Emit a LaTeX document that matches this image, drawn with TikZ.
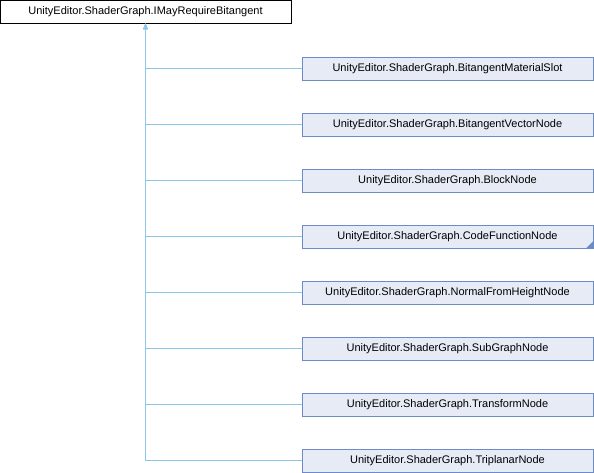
\documentclass[tikz,border=0pt]{standalone}
\usepackage{fontspec}
\setmainfont{Liberation Sans}
\usetikzlibrary{arrows.meta,positioning}
\definecolor{edgeBlue}{HTML}{8CC6EA}
\definecolor{derivedBorder}{HTML}{6C8CC8}
\definecolor{derivedFill}{HTML}{E6EBF5}

\begin{document}
\begin{tikzpicture}[x=1pt, y=-1pt,
          base/.style={rectangle, draw=black, fill=white, minimum width=291pt, minimum height=23pt, inner sep=0pt, font=\fontsize{11}{13}\selectfont},
          derived/.style={base, draw=derivedBorder, fill=derivedFill},
          inherit/.style={draw=edgeBlue, thick, -{Latex[length=6pt,width=5pt]}}
        ]
          \useasboundingbox (0,0) rectangle (594,472);
          \node[base] (root) at (145.5,11.5) {UnityEditor.ShaderGraph.IMayRequireBitangent};
          \node[derived] (slot) at (447.5,68.5) {UnityEditor.ShaderGraph.BitangentMaterialSlot};
          \node[derived] (vector) at (447.5,124.5) {UnityEditor.ShaderGraph.BitangentVectorNode};
          \node[derived] (block) at (447.5,180.5) {UnityEditor.ShaderGraph.BlockNode};
          \node[derived] (codefn) at (447.5,236.5) {UnityEditor.ShaderGraph.CodeFunctionNode};
          \node[derived] (normal) at (447.5,292.5) {UnityEditor.ShaderGraph.NormalFromHeightNode};
          \node[derived] (subgraph) at (447.5,348.5) {UnityEditor.ShaderGraph.SubGraphNode};
          \node[derived] (transform) at (447.5,404.5) {UnityEditor.ShaderGraph.TransformNode};
          \node[derived] (triplanar) at (447.5,460.5) {UnityEditor.ShaderGraph.TriplanarNode};
          % folded corner: class has more derived classes
          \fill[derivedBorder] (codefn.south east) -- ++(0,-7) -- ++(-7,7) -- cycle;
          % inheritance edges
          \draw[inherit] (slot.west) -| (root.south);
          \draw[inherit] (vector.west) -| (root.south);
          \draw[inherit] (block.west) -| (root.south);
          \draw[inherit] (codefn.west) -| (root.south);
          \draw[inherit] (normal.west) -| (root.south);
          \draw[inherit] (subgraph.west) -| (root.south);
          \draw[inherit] (transform.west) -| (root.south);
          \draw[inherit] (triplanar.west) -| (root.south);
        \end{tikzpicture}
\end{document}
